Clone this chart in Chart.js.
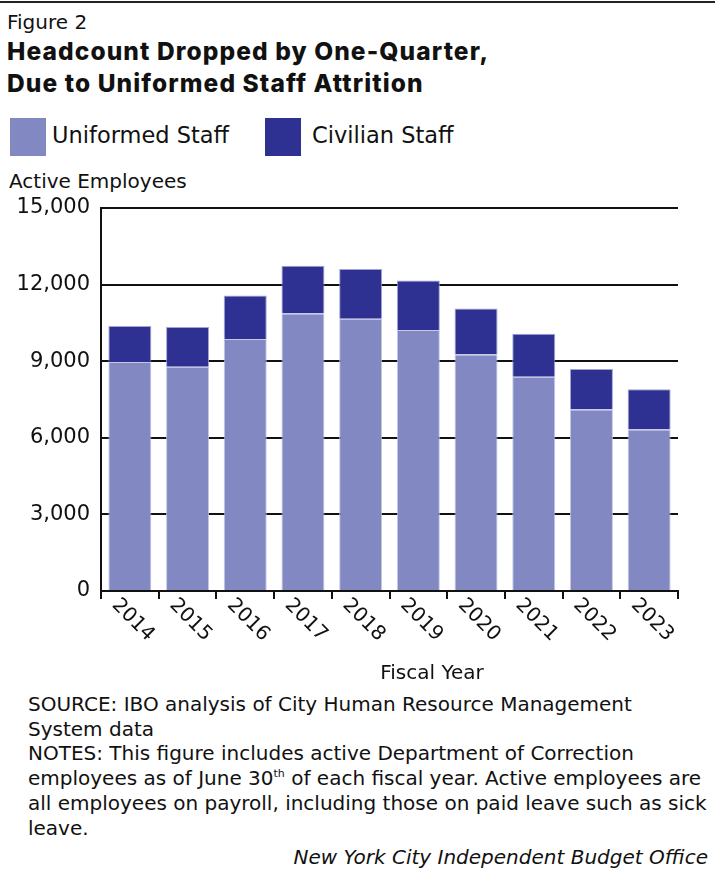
<!DOCTYPE html>
<html><head><meta charset="utf-8">
<script src="https://cdn.jsdelivr.net/npm/chart.js@4.4.0/dist/chart.umd.min.js"></script>
<style>
html,body{margin:0;padding:0;background:#fff;}
body{width:715px;height:888px;position:relative;overflow:hidden;font-family:"DejaVu Sans",Inter,sans-serif;color:#111;}
.t{position:absolute;white-space:nowrap;}
.sw{position:absolute;width:36px;height:38px;}
sup{font-size:0.55em;line-height:0;vertical-align:0.75em;}
</style></head><body>
<div style="position:absolute;left:0;top:1px;width:715px;height:2px;background:#222"></div>
<div class="t" style="left:7px;top:12px;font-size:20px;line-height:20px">Figure 2</div>
<div class="t" style="left:7px;top:35px;font-family:Inter,sans-serif;font-size:24.5px;line-height:32px;font-weight:800;letter-spacing:1.1px">Headcount Dropped by One-Quarter,<br>Due to Uniformed Staff Attrition</div>
<div id="legend"></div>
<div class="t" style="left:9px;top:171px;font-size:20px;line-height:20px">Active Employees</div>
<div style="position:absolute;left:0;top:195px;width:715px;height:496px"><canvas id="c" width="715" height="496"></canvas></div>
<div class="t" style="left:432px;top:662px;font-size:20px;line-height:20px;transform:translateX(-50%)">Fiscal Year</div>
<div class="t" style="left:28px;top:692px;font-size:20px;line-height:24.7px">SOURCE: IBO analysis of City Human Resource Management<br>System data<br>NOTES: This figure includes active Department of Correction<br>employees as of June 30<sup>th</sup> of each fiscal year. Active employees are<br>all employees on payroll, including those on paid leave such as sick<br>leave.</div>
<div class="t" style="right:7px;top:847px;font-size:20px;line-height:20px;font-style:italic">New York City Independent Budget Office</div>
<script>
const categories = ['2014','2015','2016','2017','2018','2019','2020','2021','2022','2023'];
const uniformed = [8965, 8781, 9866, 10871, 10662, 10219, 9264, 8389, 7108, 6324];
const civilian  = [1411, 1556, 1710, 1869, 1948, 1946, 1803, 1685, 1582, 1582];
const yTicks = [0, 3000, 6000, 9000, 12000, 15000];
const seriesNames = ['Uniformed Staff', 'Civilian Staff'];
const seriesColors = ['#8289C2', '#2E3192'];

// HTML legend
const lg = document.getElementById('legend');
const legendPos = [{box:10, text:52}, {box:265, text:312}];
seriesNames.forEach((n,i)=>{
  const b = document.createElement('div'); b.className='sw';
  b.style.left = legendPos[i].box+'px'; b.style.top='118px'; b.style.background=seriesColors[i];
  lg.appendChild(b);
  const t = document.createElement('div'); t.className='t';
  t.style.cssText = 'left:'+legendPos[i].text+'px;top:124px;font-size:22.5px;line-height:22.5px';
  t.textContent = n; lg.appendChild(t);
});

const tickFont = '"DejaVu Sans", Inter, sans-serif';
const xLabels = {
  id: 'xlabels',
  afterDraw(chart){
    const {ctx, chartArea} = chart; const x = chart.scales.x;
    ctx.save();
    ctx.font = '20px ' + tickFont;
    ctx.fillStyle = '#111'; ctx.textAlign = 'center'; ctx.textBaseline = 'middle';
    categories.forEach((lab,i)=>{
      ctx.save();
      ctx.translate(x.getPixelForValue(i) + 3, chartArea.bottom + 29);
      ctx.rotate(Math.PI/4);
      ctx.fillText(lab, 0, 0);
      ctx.restore();
    });
    ctx.restore();
  }
};

new Chart(document.getElementById('c'), {
  type: 'bar',
  data: {
    labels: categories,
    datasets: [
      {label: seriesNames[0], data: uniformed, backgroundColor: seriesColors[0], borderColor: 'rgba(190,194,228,0.9)', borderWidth: 1, barPercentage: 0.745, categoryPercentage: 1},
      {label: seriesNames[1], data: civilian, backgroundColor: seriesColors[1], borderColor: 'rgba(150,155,210,0.9)', borderWidth: 1, barPercentage: 0.745, categoryPercentage: 1}
    ]
  },
  options: {
    responsive: false, animation: false,
    layout: {padding: {left: 0, right: 37, top: 13, bottom: 0}},
    plugins: {legend: {display: false}, tooltip: {enabled: false}},
    scales: {
      x: {
        stacked: true,
        ticks: {display: false},
        grid: {display: true, drawOnChartArea: false, drawTicks: true, tickLength: 8, color: '#111', lineWidth: 2, offset: true},
        border: {display: true, color: '#111', width: 2},
        afterFit: s => { s.height = 100; s.paddingLeft = 0; s.paddingRight = 0; }
      },
      y: {
        stacked: true, min: 0, max: 15000,
        afterBuildTicks: s => { s.ticks = yTicks.map(v => ({value: v})); },
        ticks: {font: {family: tickFont, size: 21}, color: '#111', padding: 11, callback: v => Number(v).toLocaleString('en-US')},
        grid: {color: '#111', lineWidth: 2, drawTicks: false},
        border: {display: true, color: '#111', width: 2},
        afterFit: s => { s.width = 101; s.paddingTop = 0; s.paddingBottom = 0; }
      }
    }
  },
  plugins: [xLabels]
});
</script>
</body></html>
